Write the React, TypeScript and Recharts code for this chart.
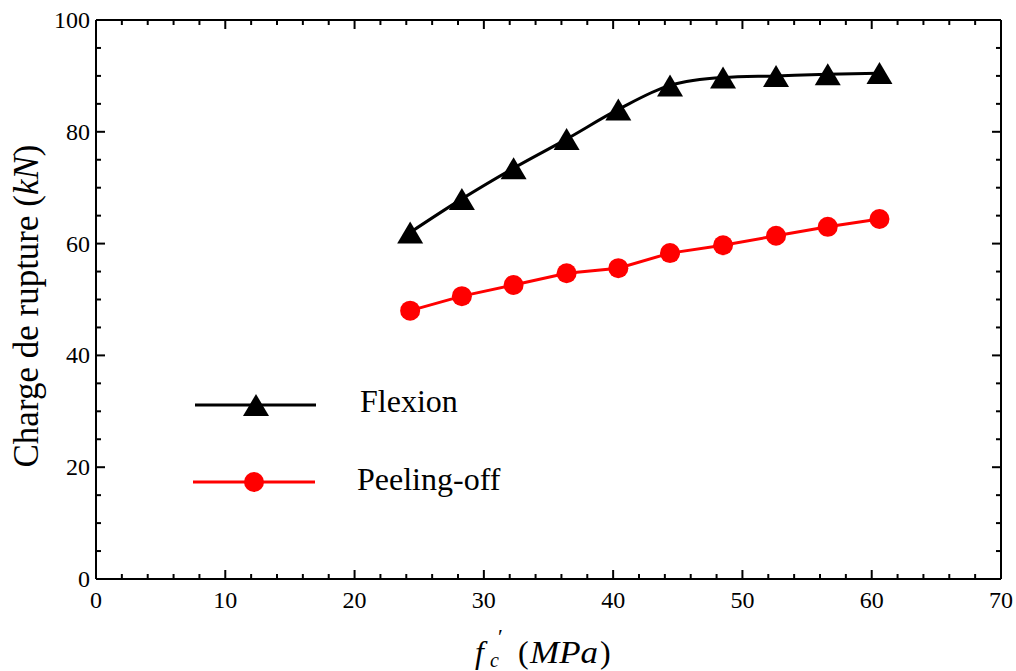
import { LineChart, Line, XAxis, YAxis, Customized } from "recharts";

// f'c (MPa)
const fc = [24.3, 28.3, 32.3, 36.4, 40.4, 44.4, 48.5, 52.6, 56.6, 60.6];
// charge de rupture (kN)
const flexion = [62.0, 68.0, 73.5, 78.7, 84.0, 88.3, 89.7, 90.0, 90.3, 90.5];
const peelingOff = [48.0, 50.6, 52.6, 54.7, 55.6, 58.3, 59.7, 61.4, 63.0, 64.4];

const xTicks = [0, 2, 4, 6, 8, 10, 12, 14, 16, 18, 20, 22, 24, 26, 28, 30, 32, 34, 36, 38, 40, 42, 44, 46, 48, 50, 52, 54, 56, 58, 60, 62, 64, 66, 68, 70];
const yTicks = [0, 5, 10, 15, 20, 25, 30, 35, 40, 45, 50, 55, 60, 65, 70, 75, 80, 85, 90, 95, 100];
const xLabels = [0, 10, 20, 30, 40, 50, 60, 70];
const yLabels = [0, 20, 40, 60, 80, 100];

const data = fc.map((x, i) => ({ fc: x, flexion: flexion[i], peeling: peelingOff[i] }));

const FONT = "'Liberation Serif', 'Times New Roman', serif";
const W = 1008;
const H = 663;
const MAJOR = 9;
const MINOR = 5;

function makeXTick(side: "bottom" | "top") {
    return (props: any) => {
        const { x, y, payload } = props;
        const v = payload.value;
        const major = xLabels.includes(v);
        const len = major ? MAJOR : MINOR;
        const dir = side === "bottom" ? -1 : 1;
        return (
            <g>
                <line x1={x} x2={x} y1={y} y2={y + dir * len} stroke="#000" strokeWidth={2} />
                {side === "bottom" && major && (
                    <text x={x} y={y + 29} textAnchor="middle" fontFamily={FONT} fontSize={24} fill="#000">
                        {v}
                    </text>
                )}
            </g>
        );
    };
}

function makeYTick(side: "left" | "right") {
    return (props: any) => {
        const { x, y, payload } = props;
        const v = payload.value;
        const major = yLabels.includes(v);
        const len = major ? MAJOR : MINOR;
        const dir = side === "left" ? 1 : -1;
        return (
            <g>
                <line x1={x} x2={x + dir * len} y1={y} y2={y} stroke="#000" strokeWidth={2} />
                {side === "left" && major && (
                    <text x={x - 6} y={y + 8} textAnchor="end" fontFamily={FONT} fontSize={24} fill="#000">
                        {v}
                    </text>
                )}
            </g>
        );
    };
}

function Triangle(props: any) {
    const { cx, cy } = props;
    if (cx == null || cy == null) return null;
    return <polygon points={`${cx},${cy - 11} ${cx - 13},${cy + 11} ${cx + 13},${cy + 11}`} fill="#000" />;
}

function Circle(props: any) {
    const { cx, cy } = props;
    if (cx == null || cy == null) return null;
    return <circle cx={cx} cy={cy} r={10} fill="#ff0000" />;
}

function Labels() {
    return (
        <g fontFamily={FONT} fill="#000">
            {/* legend */}
            <line x1={187} x2={308} y1={397} y2={397} stroke="#000" strokeWidth={3} />
            <polygon points="248,386 235,408 261,408" fill="#000" />
            <text x={352} y={404} fontSize={32}>Flexion</text>
            <line x1={185} x2={307} y1={474} y2={474} stroke="#ff0000" strokeWidth={3} />
            <circle cx={246} cy={474} r={10} fill="#ff0000" />
            <text x={349} y={482} fontSize={32}>Peeling-off</text>

            {/* axis titles */}
            <text transform="translate(30, 298) rotate(-90)" textAnchor="middle" fontSize={35}>
                Charge de rupture (<tspan fontStyle="italic">kN</tspan>)
            </text>
            <text fontSize={32}>
                <tspan x={467} y={655} fontStyle="italic">f</tspan>
                <tspan x={490} y={636} fontSize={22}>′</tspan>
                <tspan x={482} y={659} fontSize={20} fontStyle="italic">c</tspan>
                <tspan x={510} y={655}>(</tspan>
                <tspan x={522} y={655} fontStyle="italic" textLength={68} lengthAdjust="spacingAndGlyphs">MPa</tspan>
                <tspan x={592} y={655}>)</tspan>
            </text>
        </g>
    );
}

export default function App() {
    return (
        <div style={{ padding: "8px 0 0 8px" }}>
            <style>{"body{margin:0}"}</style>
            <LineChart width={W} height={H} data={data} margin={{ top: 11, right: 14, left: 48, bottom: 62 }}>
                <XAxis
                    dataKey="fc"
                    type="number"
                    domain={[0, 70]}
                    ticks={xTicks}
                    interval={0}
                    height={30}
                    tickSize={0}
                    tickMargin={0}
                    tickLine={false}
                    axisLine={{ stroke: "#000", strokeWidth: 2 }}
                    tick={makeXTick("bottom")}
                    allowDataOverflow
                />
                <XAxis
                    xAxisId="top"
                    dataKey="fc"
                    type="number"
                    orientation="top"
                    domain={[0, 70]}
                    ticks={xTicks}
                    interval={0}
                    height={1}
                    tickSize={0}
                    tickMargin={0}
                    tickLine={false}
                    axisLine={{ stroke: "#000", strokeWidth: 2 }}
                    tick={makeXTick("top")}
                    allowDataOverflow
                />
                <YAxis
                    type="number"
                    domain={[0, 100]}
                    ticks={yTicks}
                    interval={0}
                    width={40}
                    tickSize={0}
                    tickMargin={0}
                    tickLine={false}
                    axisLine={{ stroke: "#000", strokeWidth: 2 }}
                    tick={makeYTick("left")}
                    allowDataOverflow
                />
                <YAxis
                    yAxisId="right"
                    orientation="right"
                    type="number"
                    domain={[0, 100]}
                    ticks={yTicks}
                    interval={0}
                    width={1}
                    tickSize={0}
                    tickMargin={0}
                    tickLine={false}
                    axisLine={{ stroke: "#000", strokeWidth: 2 }}
                    tick={makeYTick("right")}
                    allowDataOverflow
                />
                <Line
                    dataKey="flexion"
                    type="monotone"
                    stroke="#000"
                    strokeWidth={3}
                    dot={<Triangle />}
                    activeDot={false}
                    isAnimationActive={false}
                />
                <Line
                    dataKey="peeling"
                    type="linear"
                    stroke="#ff0000"
                    strokeWidth={3}
                    dot={<Circle />}
                    activeDot={false}
                    isAnimationActive={false}
                />
                <Customized component={Labels} />
            </LineChart>
        </div>
    );
}
